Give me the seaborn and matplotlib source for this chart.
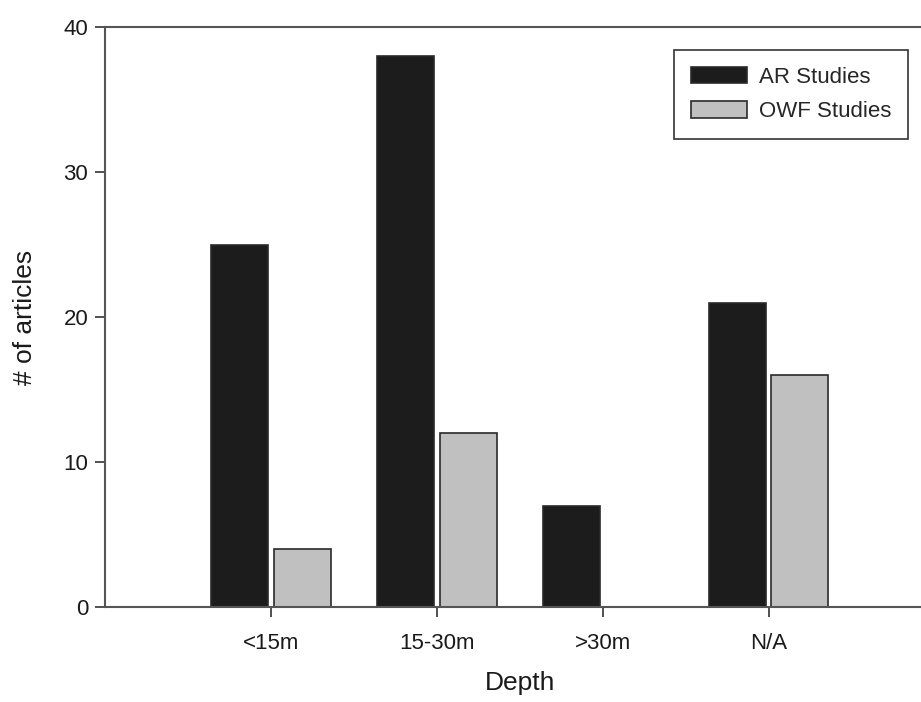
import pandas as pd
import seaborn as sns
import matplotlib.pyplot as plt

# Valores
depths = ['<15m', '15-30m', '>30m', 'N/A']
ar_studies = [25, 38, 7, 21]
owf_studies = [4, 12, 0, 16]
series_names = ['AR Studies', 'OWF Studies']
colors = ['#1c1c1c', '#c0c0c0']

df = pd.DataFrame({
    'depth': depths * 2,
    'count': ar_studies + owf_studies,
    'study': [series_names[0]] * 4 + [series_names[1]] * 4,
})

sns.set_style('white')
plt.rcParams['font.family'] = ['Liberation Sans', 'DejaVu Sans']

fig = plt.figure(figsize=(9.21, 7.02), dpi=100)
ax = fig.add_axes([0.114, 0.1353, 0.901, 0.8262])

sns.barplot(data=df, x='depth', y='count', hue='study', order=depths,
            hue_order=series_names, palette=colors, width=0.75, gap=0.085,
            edgecolor='#2a2a2a', linewidth=1.2, ax=ax)

ax.set_xlim(-1, 4)
ax.set_ylim(0, 40)
ax.set_yticks([0, 10, 20, 30, 40])
ax.set_xlabel('Depth', fontsize=19, labelpad=12)
ax.set_ylabel('# of articles', fontsize=19, labelpad=19)
ax.tick_params(axis='both', labelsize=16, direction='out', length=7,
               width=1.2, color='#333333', labelcolor='#1a1a1a',
               left=True, bottom=True)
ax.tick_params(axis='x', pad=12)
ax.tick_params(axis='y', pad=5)
ax.xaxis.label.set_color('#1a1a1a')
ax.yaxis.label.set_color('#1a1a1a')

for side in ['left', 'bottom', 'top']:
    ax.spines[side].set_color('#555555')
    ax.spines[side].set_linewidth(1.5)
ax.spines['right'].set_visible(False)

ax.legend(title=None, loc='upper right', bbox_to_anchor=(0.9675, 0.96),
          fontsize=16, frameon=True, fancybox=False, edgecolor='#333333',
          framealpha=1, handlelength=2.5, handleheight=0.77,
          handletextpad=0.55, labelspacing=0.6, borderpad=0.75,
          borderaxespad=0)
ax.get_legend().get_frame().set_linewidth(1.2)

fig.savefig('out.png', dpi=100)
